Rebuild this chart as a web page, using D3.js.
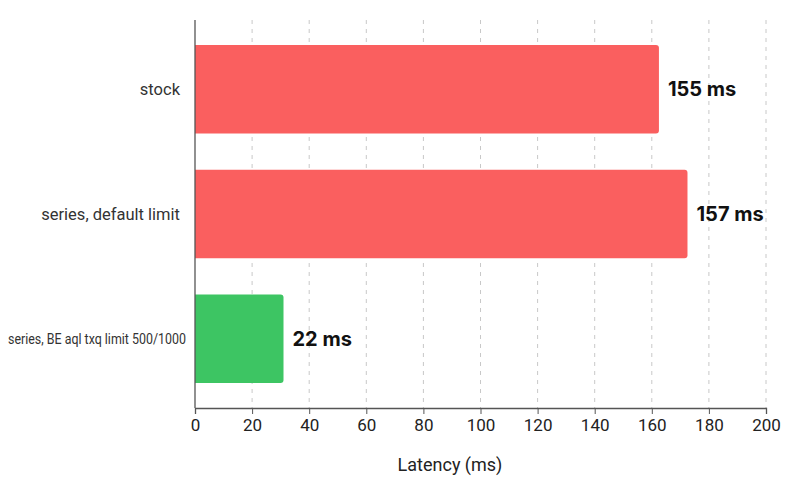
<!DOCTYPE html>
<html>
<head>
<meta charset="utf-8">
<script src="https://d3js.org/d3.v7.min.js"></script>
<style>
  body { margin: 0; background: #fff; }
  svg text { font-family: Roboto, "Noto Sans", sans-serif; }
</style>
</head>
<body>
<svg id="chart" width="800" height="477"></svg>
<script>
// ── 数据 ────────────────────────────────────────────
const categories = ["stock", "series, default limit", "series, BE aql txq limit 500/1000"];
const values = [162.5, 172.5, 31];          // bar lengths as drawn
const valueLabels = ["155 ms", "157 ms", "22 ms"];
const barColors = ["#fa5f5f", "#fa5f5f", "#3dc563"];
const xTicks = [0, 20, 40, 60, 80, 100, 120, 140, 160, 180, 200];

// ── 布局 ────────────────────────────────────────────
const width = 800, height = 477;
const margin = { top: 20, right: 34, bottom: 69, left: 195 };

const svg = d3.select("#chart");

const x = d3.scaleLinear()
    .domain([0, 200])
    .range([margin.left, width - margin.right]);

const y = d3.scaleBand()
    .domain(categories)
    .range([margin.top, height - margin.bottom])
    .paddingInner(0.29)
    .paddingOuter(0.2);

// 网格线
svg.append("g")
    .selectAll("line")
    .data(xTicks.slice(1))
    .join("line")
    .attr("x1", d => x(d))
    .attr("x2", d => x(d))
    .attr("y1", margin.top)
    .attr("y2", height - margin.bottom)
    .attr("stroke", "#c8c8c8")
    .attr("stroke-width", 1)
    .attr("stroke-dasharray", "4,5");

// 柱子（右侧圆角）
function barPath(x0, x1, y0, h, r) {
    return `M${x0},${y0}H${x1 - r}Q${x1},${y0} ${x1},${y0 + r}` +
        `V${y0 + h - r}Q${x1},${y0 + h} ${x1 - r},${y0 + h}H${x0}Z`;
}

svg.append("g")
    .selectAll("path")
    .data(categories)
    .join("path")
    .attr("d", (d, i) => barPath(x(0), x(values[i]), y(d), y.bandwidth(), 3))
    .attr("fill", (d, i) => barColors[i]);

// 数值标签
svg.append("g")
    .selectAll("text")
    .data(categories)
    .join("text")
    .attr("x", (d, i) => x(values[i]) + 9)
    .attr("y", d => y(d) + y.bandwidth() / 2)
    .attr("dy", "0.36em")
    .attr("font-size", 20)
    .attr("font-weight", "bold")
    .attr("fill", "#111")
    .style("font-family", "Inter, Roboto, sans-serif")
    .text((d, i) => valueLabels[i]);

// X 轴
const xAxis = svg.append("g")
    .attr("transform", `translate(0,${height - margin.bottom})`)
    .call(d3.axisBottom(x).tickValues(xTicks).tickSize(6).tickPadding(5));
xAxis.select(".domain").attr("stroke", "#555").attr("stroke-width", 1.3);
xAxis.selectAll(".tick line").attr("stroke", "#555");
xAxis.selectAll(".tick text")
    .attr("font-size", 17)
    .attr("fill", "#222");

// Y 轴线
svg.append("line")
    .attr("x1", x(0)).attr("x2", x(0))
    .attr("y1", margin.top)
    .attr("y2", height - margin.bottom)
    .attr("stroke", "#555")
    .attr("stroke-width", 1.3);

// 类别标签
svg.append("g")
    .selectAll("text")
    .data(categories)
    .join("text")
    .attr("x", (d, i) => i === 2 ? x(0) - 9 : x(0) - 15)
    .attr("y", d => y(d) + y.bandwidth() / 2)
    .attr("dy", "0.35em")
    .attr("text-anchor", "end")
    .attr("fill", "#333")
    .attr("font-size", (d, i) => i === 2 ? 14 : 16.5)
    .each(function (d, i) {
        if (i === 2) d3.select(this).attr("textLength", 178).attr("lengthAdjust", "spacingAndGlyphs");
    })
    .text(d => d);

// 轴标题
svg.append("text")
    .attr("x", 450)
    .attr("y", 471)
    .attr("text-anchor", "middle")
    .attr("font-size", 18)
    .attr("fill", "#222")
    .text("Latency (ms)");
</script>
</body>
</html>
